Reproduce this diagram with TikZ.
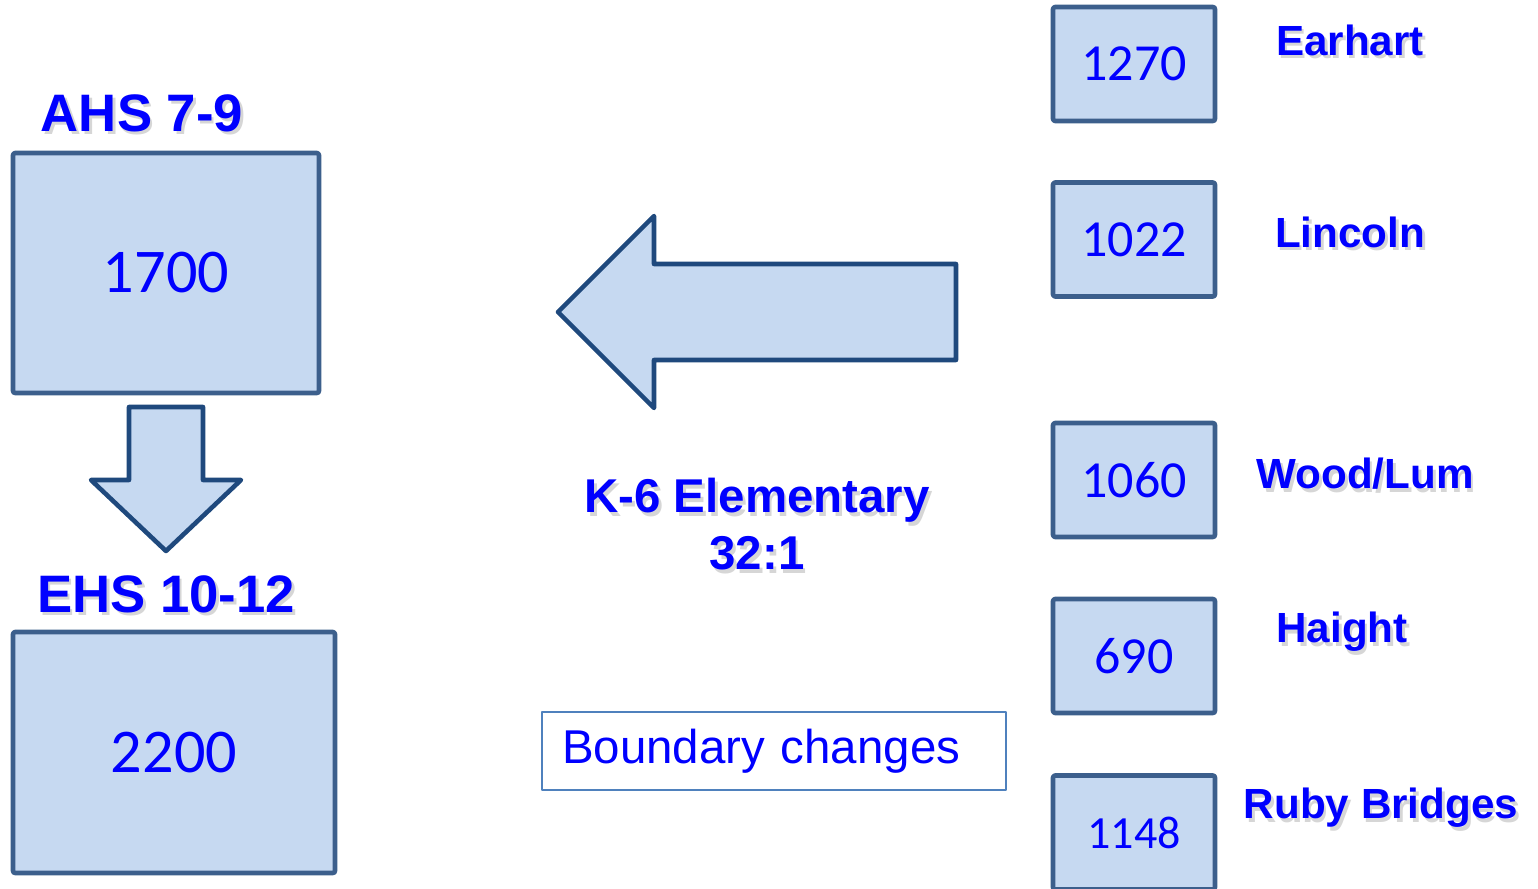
\documentclass[tikz,border=0pt]{standalone}
\usepackage{fontspec}
\setmainfont{Liberation Sans}
\newfontfamily\numfont{Carlito}
\definecolor{boxfill}{HTML}{C6D9F1}
\definecolor{boxline}{HTML}{3C5F8C}
\definecolor{arrowline}{HTML}{1F497D}
\definecolor{txtblue}{HTML}{0000FF}
\definecolor{frameblue}{HTML}{4F81BD}
\tikzset{
  numbox/.style={draw=boxline, fill=boxfill, line width=1.3pt, rounded corners=0.6pt,
    text=txtblue, inner sep=0pt},
  schoolname/.style={text=txtblue, font=\bfseries\fontsize{12}{14}\selectfont, inner sep=0pt},
  bigname/.style={text=txtblue, font=\bfseries\fontsize{15}{18}\selectfont, inner sep=0pt},
  shadowtext/.style={text=black!16, xshift=0.8pt, yshift=-1pt},
  blockarrow/.style={draw=arrowline, fill=boxfill, line width=1.3pt, line join=round}
}
% label with a soft drop shadow
\newcommand{\shadowlabel}[4]{%
  \node[#1, shadowtext] at (#2) {#4};
  \node[#1] (#3) at (#2) {#4};
}
\begin{document}
\begin{tikzpicture}[line join=round]
  \useasboundingbox (0,0) rectangle (15.38,8.88);

  % high schools
  \node[numbox, minimum width=3.06cm, minimum height=2.40cm,
        font=\numfont\fontsize{17.7}{20}\selectfont] (ahs) at (1.66,6.15) {1700};
  \shadowlabel{bigname}{1.42,7.75}{ahsname}{AHS 7-9}
  \draw[blockarrow] (1.29,4.81) -- (2.03,4.81) -- (2.03,4.08) -- (2.41,4.08)
    -- (1.66,3.37) -- (0.91,4.08) -- (1.29,4.08) -- cycle;
  \shadowlabel{bigname}{1.66,2.94}{ehsname}{EHS 10-12}
  \node[numbox, minimum width=3.22cm, minimum height=2.41cm,
        font=\numfont\fontsize{17.7}{20}\selectfont] (ehs) at (1.74,1.355) {2200};

  % elementary
  \draw[blockarrow] (5.58,5.76) -- (6.54,6.72) -- (6.54,6.24) -- (9.56,6.24)
    -- (9.56,5.28) -- (6.54,5.28) -- (6.54,4.80) -- cycle;
  \node[shadowtext, align=center, inner sep=0pt,
        font=\bfseries\fontsize{13.5}{16.2}\selectfont] at (7.57,3.635)
        {K-6 Elementary\\32:1};
  \node[text=txtblue, align=center, inner sep=0pt,
        font=\bfseries\fontsize{13.5}{16.2}\selectfont] (elem) at (7.57,3.635)
        {K-6 Elementary\\32:1};
  \node[draw=frameblue, line width=0.8pt, minimum width=4.64cm, minimum height=0.78cm,
        text width=4.24cm, inner xsep=0.2cm, align=left, text=txtblue,
        font=\fontsize{13.5}{16}\selectfont] (bound) at (7.74,1.37)
        {\raisebox{-1pt}{Boundary changes}};

  % elementary schools
  \node[numbox, minimum width=1.62cm, minimum height=1.14cm,
        font=\numfont\fontsize{14.8}{17}\selectfont] (earhart) at (11.34,8.24) {1270};
  \node[numbox, minimum width=1.62cm, minimum height=1.14cm,
        font=\numfont\fontsize{14.8}{17}\selectfont] (lincoln) at (11.34,6.485) {1022};
  \node[numbox, minimum width=1.62cm, minimum height=1.14cm,
        font=\numfont\fontsize{14.8}{17}\selectfont] (wood) at (11.34,4.08) {1060};
  \node[numbox, minimum width=1.62cm, minimum height=1.14cm,
        font=\numfont\fontsize{14.8}{17}\selectfont] (haight) at (11.34,2.32) {690};
  \node[numbox, minimum width=1.62cm, minimum height=1.14cm,
        font=\numfont\fontsize{13.1}{15}\selectfont] (ruby) at (11.34,0.555) {1148};

  \shadowlabel{schoolname}{13.50,8.48}{earhartname}{Earhart}
  \shadowlabel{schoolname}{13.50,6.56}{lincolnname}{Lincoln}
  \shadowlabel{schoolname}{13.65,4.14}{woodname}{Wood/Lum}
  \shadowlabel{schoolname}{13.42,2.56}{haightname}{Haight}
  \shadowlabel{schoolname}{13.81,0.80}{rubyname}{Ruby Bridges}
\end{tikzpicture}
\end{document}
